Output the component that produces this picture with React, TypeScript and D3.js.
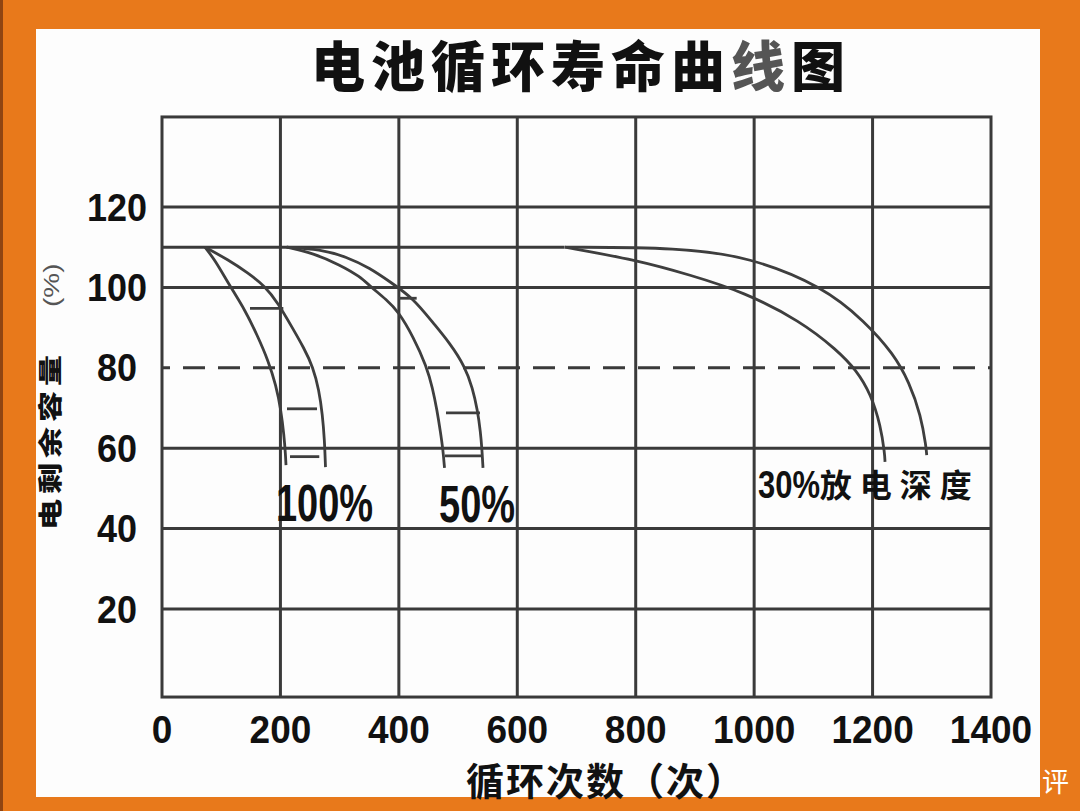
import React from "react";
import * as d3 from "d3";

type Pt = [number, number];
type Rung = [number, number, number];

// ---- axes ----
const xTicks = [0, 200, 400, 600, 800, 1000, 1200, 1400];
const yTicks = [20, 40, 60, 80, 100, 120];
const yGridSolid = [20, 40, 60, 100, 120];
const yDashed = [80];
const fullCapacity = 110;
const fullCapacityLineEnd = 680;
const xDomain: [number, number] = [0, 1400];
const yDomain: [number, number] = [0, 140];
const yFrame: [number, number] = [-1.9, 142.4];

// ---- series: [cycles, remaining capacity %] ----
const dod100Inner: Pt[] = [
  [72.6, 110], [89.5, 106.8], [114.8, 100.3], [140.2, 94.4], [162.1, 87.7],
  [179.0, 81.9], [192.5, 75.7], [201.0, 69.4], [206.0, 63.2], [208.6, 58.3], [209.4, 55.8],
];
const dod100Outer: Pt[] = [
  [72.6, 110], [111.5, 106.9], [145.2, 103.6], [173.9, 100.3], [195.9, 96.1],
  [219.5, 90.1], [239.8, 84.9], [255.0, 80.2], [265.1, 74.5], [271.0, 68.3],
  [274.4, 62.1], [276.1, 55.3],
];
const dod50Inner: Pt[] = [
  [210.6, 110], [255.5, 108.5], [300.6, 105.6], [334.4, 102.7], [351.3, 100.3],
  [379.5, 96.9], [399.1, 94.0], [424.4, 87.7], [447.0, 80.3], [456.8, 75.0],
  [464.4, 69.5], [470.3, 64.0], [474.5, 59.6], [477.1, 55.1],
];
const dod50Outer: Pt[] = [
  [210.6, 110], [266.8, 109.5], [311.9, 107.6], [351.3, 104.8], [385.0, 101.4],
  [424.4, 97.3], [458.2, 91.1], [486.4, 86.1], [511.7, 80.3], [524.4, 75.0],
  [532.8, 69.5], [537.9, 64.0], [540.4, 59.6], [542.1, 55.1],
];
const dod30Inner: Pt[] = [
  [680.6, 110], [801.7, 106.8], [891.7, 103.1], [981.8, 98.9], [1078.7, 91.6],
  [1140.0, 84.4], [1172.8, 79.4], [1197.2, 73.4], [1213.6, 65.6], [1220.5, 58.6], [1221.0, 56.6],
];
const dod30Outer: Pt[] = [
  [680.6, 110], [874.8, 109.9], [991.8, 107.6], [1116.8, 100.2], [1187.2, 91.5],
  [1235.9, 83.4], [1261.9, 76.4], [1281.6, 68.2], [1290.4, 60.3], [1291.4, 58.3],
];

// ladder rungs: [cycles from, cycles to, capacity]
const dod100Rungs: Rung[] = [[148.6, 204.9, 94.8], [211.1, 261.8, 69.8], [216.2, 265.6, 57.9]];
const dod50Rungs: Rung[] = [[399.1, 430.1, 97.3], [479.6, 537.0, 68.8], [477.9, 542.1, 58.1]];

// ---- texts ----
const title = "电池循环寿命曲线图";
const xTitle = "循环次数（次）";
const yTitle = "电剩余容量";
const yUnit = "(%)";
const curveLabels = [
  { text: "100%", c: 192.5, v: 41.9 },
  { text: "50%", c: 467.8, v: 41.6 },
];
const dod30Label = { num: "30%", cjk: "放电深度", c: 1006.5, cjkC: 1111.0, v: 47.6 };

const DIGIT = '"Liberation Sans", Arial, sans-serif';
const CJK = '"Noto Sans CJK SC", "Noto Sans", sans-serif';

export default function App() {
  const W = 1080;
  const H = 811;
  const x = d3.scaleLinear().domain(xDomain).range([162, 991]);
  const y = d3.scaleLinear().domain(yDomain).range([689.4, 126.6]);
  const fTop = y(yFrame[1]);
  const fBot = y(yFrame[0]);
  const line = d3
    .line<Pt>()
    .x((d) => x(d[0]))
    .y((d) => y(d[1]))
    .curve(d3.curveBasis);
  const grid = "#3a3a3a";
  const ink = "#3e3e3e";
  const series = [dod100Inner, dod100Outer, dod50Inner, dod50Outer, dod30Inner, dod30Outer];
  const rungs = [...dod100Rungs, ...dod50Rungs];

  return (
    <svg
      width={W}
      height={H}
      viewBox={`0 0 ${W} ${H}`}
      style={{ position: "absolute", left: 0, top: 0, display: "block" }}
    >
      <rect width={W} height={H} fill="#E8791B" />
      <rect x={0} y={0} width={3} height={H} fill="#8f4512" />
      <rect x={36} y={29} width={1004} height={768} fill="#fdfdfd" />

      {/* title */}
      <text
        x={311}
        y={86.5}
        fontFamily={CJK}
        fontWeight={900}
        fontSize={54}
        letterSpacing={6}
        fill="#111"
      >
        {title.slice(0, 7)}
        <tspan fill="#555">{title.slice(7, 8)}</tspan>
        {title.slice(8)}
      </text>

      {/* grid */}
      {xTicks.slice(1, -1).map((t) => (
        <line key={"vx" + t} x1={x(t)} x2={x(t)} y1={fTop} y2={fBot} stroke={grid} strokeWidth={3} />
      ))}
      {yGridSolid.map((v) => (
        <line key={"hy" + v} x1={x(xDomain[0])} x2={x(xDomain[1])} y1={y(v)} y2={y(v)} stroke={grid} strokeWidth={3} />
      ))}
      {yDashed.map((v) => (
        <line
          key={"dy" + v}
          x1={x(xDomain[0])}
          x2={x(xDomain[1])}
          y1={y(v)}
          y2={y(v)}
          stroke={grid}
          strokeWidth={3}
          strokeDasharray="22 13"
          strokeDashoffset={14}
        />
      ))}
      <line
        x1={x(xDomain[0])}
        x2={x(fullCapacityLineEnd)}
        y1={y(fullCapacity)}
        y2={y(fullCapacity)}
        stroke={grid}
        strokeWidth={3}
      />
      <rect
        x={x(xDomain[0])}
        y={fTop}
        width={x(xDomain[1]) - x(xDomain[0])}
        height={fBot - fTop}
        fill="none"
        stroke={grid}
        strokeWidth={3}
      />

      {/* curves */}
      {series.map((s, i) => (
        <path key={"s" + i} d={line(s) || ""} fill="none" stroke={ink} strokeWidth={2.8} />
      ))}
      {rungs.map((r, i) => (
        <line key={"r" + i} x1={x(r[0])} x2={x(r[1])} y1={y(r[2])} y2={y(r[2])} stroke={ink} strokeWidth={2.8} />
      ))}

      {/* y tick labels */}
      {yTicks.map((v) => (
        <text
          key={"yl" + v}
          transform={`translate(117,${y(v) + 13.5}) scale(1,1.06)`}
          textAnchor="middle"
          fontFamily={DIGIT}
          fontWeight={700}
          fontSize={36}
          fill="#111"
        >
          {v}
        </text>
      ))}

      {/* x tick labels */}
      {xTicks.map((t) => (
        <text
          key={"xl" + t}
          transform={`translate(${x(t)},743) scale(1,1.06)`}
          textAnchor="middle"
          fontFamily={DIGIT}
          fontWeight={700}
          fontSize={37}
          fill="#111"
        >
          {t}
        </text>
      ))}

      {/* axis titles */}
      <text x={466} y={794.5} fontFamily={CJK} fontWeight={700} fontSize={38} letterSpacing={2} fill="#111">
        {xTitle}
      </text>
      <g transform="translate(50,396) rotate(-90) scale(1,0.78)">
        <text x={-134} y={11.5} fontFamily={CJK} fontWeight={900} fontSize={31} letterSpacing={5} fill="#111">
          {yTitle}
        </text>
        <text x={89} y={11.5} fontFamily={DIGIT} fontWeight={400} fontSize={28} fill="#555">
          {yUnit}
        </text>
      </g>

      {/* curve labels */}
      {curveLabels.map((l) => (
        <text
          key={l.text}
          transform={`translate(${x(l.c)},${y(l.v)}) scale(1,1.36)`}
          fontFamily={DIGIT}
          fontWeight={700}
          fontSize={38}
          fill="#111"
        >
          {l.text}
        </text>
      ))}
      <text
        transform={`translate(${x(dod30Label.c)},${y(dod30Label.v)}) scale(1,1.27)`}
        fontFamily={DIGIT}
        fontWeight={700}
        fontSize={31}
        fill="#111"
      >
        {dod30Label.num}
      </text>
      <text
        x={x(dod30Label.cjkC)}
        y={y(dod30Label.v) - 1}
        fontFamily={CJK}
        fontWeight={700}
        fontSize={32}
        letterSpacing={8}
        fill="#111"
      >
        {dod30Label.cjk}
      </text>

      {/* watermark */}
      <text x={1042} y={792} fontFamily={CJK} fontSize={27} fill="#ffffff">
        评
      </text>
    </svg>
  );
}
